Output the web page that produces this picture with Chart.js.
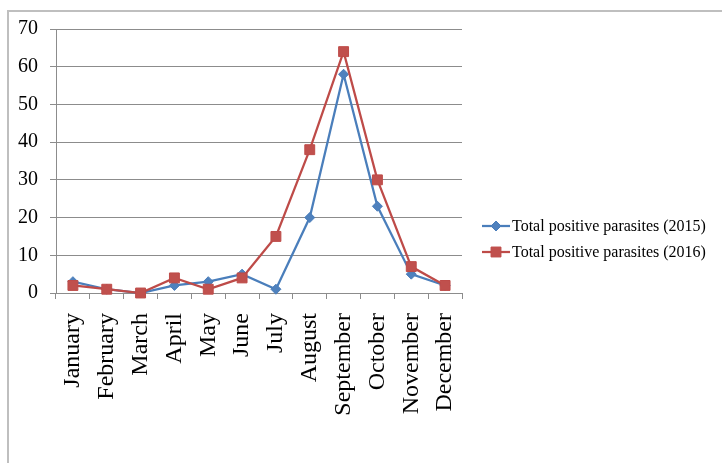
<!DOCTYPE html>
<html>
<head>
<meta charset="utf-8">
<title>Total positive parasites by month</title>
<script src="https://cdn.jsdelivr.net/npm/chart.js@4.4.0/dist/chart.umd.min.js"></script>
<style>
  html, body { margin: 0; padding: 0; background: #ffffff; }
  #wrap { position: relative; width: 722px; height: 463px; }
</style>
</head>
<body>
<div id="wrap"><canvas id="chart" width="722" height="463"></canvas></div>
<script>
// Monthly counts of positive parasite samples
const months = ['January', 'February', 'March', 'April', 'May', 'June', 'July',
                'August', 'September', 'October', 'November', 'December'];
const positives2015 = [3, 1, 0, 2, 3, 5, 1, 20, 58, 23, 5, 2];
const positives2016 = [2, 1, 0, 4, 1, 4, 15, 38, 64, 30, 7, 2];
const seriesLabels = ['Total positive parasites (2015)', 'Total positive parasites (2016)'];
const yMin = 0, yMax = 70, yStep = 10;

const GRID = '#8c8c8c';
const SERIF = '"Liberation Serif", "Times New Roman", serif';

// Light frame along the top and left edges
const framePlugin = {
  id: 'frame',
  beforeDraw(chart) {
    const ctx = chart.ctx;
    ctx.save();
    ctx.fillStyle = '#ffffff';
    ctx.fillRect(0, 0, chart.width, chart.height);
    ctx.strokeStyle = '#bfbfbf';
    ctx.lineWidth = 2;
    ctx.beginPath();
    ctx.moveTo(8, chart.height);
    ctx.lineTo(8, 11);
    ctx.lineTo(chart.width, 11);
    ctx.stroke();
    ctx.restore();
  }
};

// Legend: line sample with marker, then the series name
const lineLegendPlugin = {
  id: 'lineLegend',
  afterDraw(chart) {
    const ctx = chart.ctx;
    const x0 = chart.chartArea.right + 20;
    const lineLen = 28;
    const rowY = [226, 252];
    ctx.save();
    chart.data.datasets.forEach((ds, i) => {
      const y = rowY[i];
      ctx.strokeStyle = ds.borderColor;
      ctx.lineWidth = ds.borderWidth;
      ctx.beginPath();
      ctx.moveTo(x0, y);
      ctx.lineTo(x0 + lineLen, y);
      ctx.stroke();
      ctx.fillStyle = ds.pointBackgroundColor;
      ctx.strokeStyle = ds.pointBorderColor;
      ctx.lineWidth = 1;
      Chart.helpers.drawPoint(ctx, {
        pointStyle: ds.pointStyle,
        radius: ds.pointRadius,
        rotation: 0,
        borderWidth: 1
      }, x0 + lineLen / 2, y);
      ctx.fillStyle = '#000000';
      ctx.font = '16px ' + SERIF;
      ctx.textBaseline = 'middle';
      ctx.textAlign = 'left';
      ctx.fillText(ds.label, x0 + lineLen + 2, y + 1);
    });
    ctx.restore();
  }
};

new Chart(document.getElementById('chart'), {
  type: 'line',
  data: {
    labels: months,
    datasets: [
      {
        label: seriesLabels[0],
        data: positives2015,
        borderColor: '#4A7EBB',
        borderWidth: 2.25,
        pointStyle: 'rectRot',
        pointRadius: 5,
        pointBackgroundColor: '#4F81BD',
        pointBorderColor: '#4A7EBB',
        pointBorderWidth: 1,
        tension: 0,
        clip: false,
        order: 1
      },
      {
        label: seriesLabels[1],
        data: positives2016,
        borderColor: '#BE4B48',
        borderWidth: 2.25,
        pointStyle: 'rect',
        pointRadius: 7,
        pointBackgroundColor: '#C0504D',
        pointBorderColor: '#BE4B48',
        pointBorderWidth: 1,
        tension: 0,
        clip: false,
        order: 0
      }
    ]
  },
  options: {
    responsive: false,
    devicePixelRatio: 1,
    animation: false,
    layout: { padding: { left: 0, top: 29, right: 260, bottom: 0 } },
    plugins: {
      legend: { display: false },
      tooltip: { enabled: false }
    },
    scales: {
      x: {
        offset: true,
        afterFit(scale) { scale.height = 170; },
        grid: {
          offset: true,
          drawOnChartArea: false,
          drawTicks: true,
          tickLength: 6,
          color: GRID
        },
        border: { color: GRID, width: 1 },
        ticks: {
          autoSkip: false,
          minRotation: 90,
          maxRotation: 90,
          padding: 14,
          color: '#000000',
          font: { family: SERIF, size: 24 }
        }
      },
      y: {
        min: yMin,
        max: yMax,
        afterFit(scale) { scale.width = 56; },
        grid: {
          color: GRID,
          drawTicks: true,
          tickLength: 6
        },
        border: { color: GRID, width: 1 },
        ticks: {
          stepSize: yStep,
          padding: 12,
          color: '#000000',
          font: { family: SERIF, size: 20 }
        }
      }
    }
  },
  plugins: [framePlugin, lineLegendPlugin]
});
</script>
</body>
</html>
